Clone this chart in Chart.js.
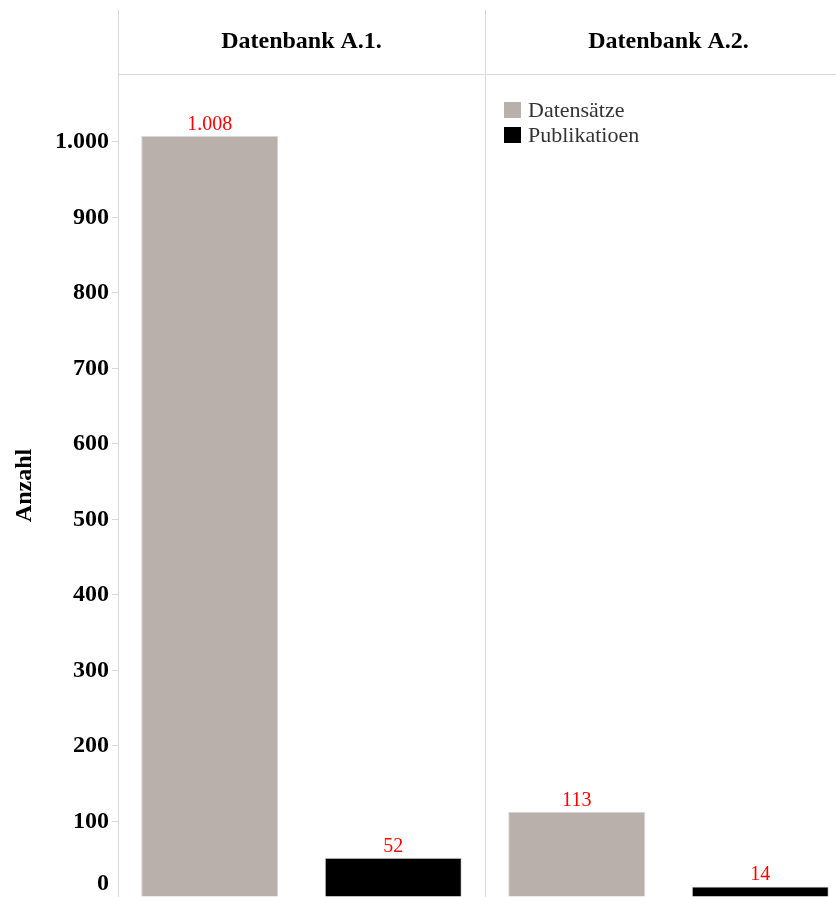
<!DOCTYPE html>
<html>
<head>
<meta charset="utf-8">
<script src="https://cdn.jsdelivr.net/npm/chart.js@4.4.1/dist/chart.umd.min.js"></script>
<style>
  html, body { margin: 0; padding: 0; overflow: hidden; background: #fff; }
  #wrap { position: relative; width: 852px; height: 897px; }
</style>
</head>
<body>
<div id="wrap"><canvas id="c" width="852" height="897"></canvas></div>
<script>
// Panels (one per database) and the two counted series
const databases = ['Datenbank A.1.', 'Datenbank A.2.'];
const seriesNames = ['Datensätze', 'Publikatioen'];
const datensaetze = [1008, 113];
const publikationen = [52, 14];
const yTickValues = [0, 100, 200, 300, 400, 500, 600, 700, 800, 900, 1000];
const yMax = 1090;
const yTitle = 'Anzahl';

const SERIF = "'Liberation Serif', 'Times New Roman', serif";
const LINE = '#d9d9d9';
const seriesColors = ['#b9b0ab', '#000000'];

// German thousands separator: 1008 -> "1.008"
const fmt = v => String(v).replace(/\B(?=(\d{3})+(?!\d))/g, '.');

// Red value label above each bar
const barValues = {
  id: 'barValues',
  afterDatasetsDraw(chart) {
    const ctx = chart.ctx;
    ctx.save();
    ctx.font = '20px ' + SERIF;
    ctx.fillStyle = '#ff0000';
    ctx.textAlign = 'center';
    ctx.textBaseline = 'alphabetic';
    chart.data.datasets.forEach((ds, di) => {
      chart.getDatasetMeta(di).data.forEach((bar, i) => {
        ctx.fillText(fmt(ds.data[i]), bar.x, bar.y - 6);
      });
    });
    ctx.restore();
  }
};

// Series key placed at the top-left of the second panel
const seriesKey = {
  id: 'seriesKey',
  afterDraw(chart) {
    const ctx = chart.ctx;
    const xs = chart.scales.x;
    const boundary = (xs.getPixelForValue(0) + xs.getPixelForValue(1)) / 2;
    const x0 = boundary + 19;
    const top = chart.chartArea.top;
    ctx.save();
    ctx.font = '22px ' + SERIF;
    ctx.textBaseline = 'middle';
    ctx.textAlign = 'left';
    seriesNames.forEach((name, i) => {
      const cy = top + 36 + i * 25;
      ctx.fillStyle = seriesColors[i];
      ctx.fillRect(x0, cy - 8, 17, 16);
      ctx.fillStyle = '#333333';
      ctx.fillText(name, x0 + 24, cy + 1);
    });
    ctx.restore();
  }
};

// The "0" tick label sits just above the bottom edge instead of being cut off
const zeroLabel = {
  id: 'zeroLabel',
  afterDraw(chart) {
    const ys = chart.scales.y;
    const ctx = chart.ctx;
    const yPix = Math.min(ys.getPixelForValue(0), chart.chartArea.bottom - 7);
    ctx.save();
    ctx.font = 'bold 24px ' + SERIF;
    ctx.fillStyle = '#000';
    ctx.textAlign = 'right';
    ctx.textBaseline = 'alphabetic';
    ctx.fillText('0', ys.right - 6 - 3, yPix);
    ctx.restore();
  }
};

new Chart(document.getElementById('c'), {
  type: 'bar',
  data: {
    labels: databases,
    datasets: [
      { label: seriesNames[0], data: datensaetze, backgroundColor: seriesColors[0] },
      { label: seriesNames[1], data: publikationen, backgroundColor: seriesColors[1] }
    ].map(d => Object.assign(d, {
      borderColor: '#d6d6d6',
      borderWidth: 1,
      borderSkipped: 'bottom',
      categoryPercentage: 1,
      barPercentage: 0.747
    }))
  },
  options: {
    responsive: false,
    animation: false,
    devicePixelRatio: 1,
    layout: { padding: { top: 10, left: 0, right: 0, bottom: 0 } },
    plugins: {
      legend: { display: false },
      tooltip: { enabled: false }
    },
    scales: {
      x: {
        position: 'top',
        offset: true,
        grid: { offset: true, color: LINE, lineWidth: 1, tickLength: 64, drawTicks: true },
        border: { color: LINE, width: 1 },
        ticks: {
          font: { family: SERIF, size: 24, weight: 'bold' },
          color: '#000',
          padding: -46,
          maxRotation: 0,
          autoSkip: false
        },
        afterFit(s) { s.height = 64; s.paddingLeft = 0; s.paddingRight = 0; }
      },
      y: {
        position: 'left',
        min: 0,
        max: yMax,
        grid: { drawOnChartArea: false, color: LINE, tickLength: 6 },
        border: { color: LINE, width: 1 },
        ticks: {
          font: { family: SERIF, size: 24, weight: 'bold' },
          color: '#000',
          padding: 3,
          callback: v => (v === 0 ? '' : fmt(v))
        },
        afterBuildTicks(s) { s.ticks = yTickValues.map(v => ({ value: v })); },
        afterFit(s) { s.width = 118; s.paddingTop = 0; s.paddingBottom = 0; },
        title: {
          display: true,
          text: yTitle,
          color: '#000',
          font: { family: SERIF, size: 24, weight: 'bold' },
          padding: { top: 10, bottom: 0 }
        }
      }
    }
  },
  plugins: [barValues, seriesKey, zeroLabel]
});
</script>
</body>
</html>
